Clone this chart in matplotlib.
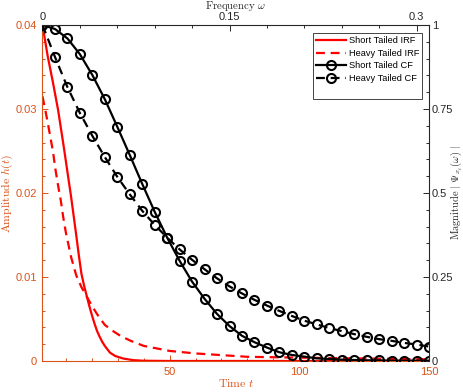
import numpy as np
import matplotlib
matplotlib.use("Agg")
import matplotlib.pyplot as plt
from matplotlib.ticker import FixedLocator, MultipleLocator, FixedFormatter
from matplotlib.lines import Line2D

plt.rcParams['font.family'] = ['Liberation Sans', 'DejaVu Sans']
plt.rcParams['mathtext.fontset'] = 'cm'

ORANGE = '#D95319'
GRAY = '#262626'

# impulse response functions (time axis)
t_short = [1, 3, 5, 7, 9, 11, 12, 13, 14, 15, 16, 17, 18, 19, 20, 21, 22, 23, 24,
           25, 27, 29, 32, 36, 40, 50, 150]
h_short = [0.0400, 0.0363, 0.0332, 0.0299, 0.0259, 0.0217, 0.0196, 0.0173, 0.0150,
           0.0126, 0.0104, 0.0090, 0.0078, 0.0066, 0.0055, 0.0045, 0.0036, 0.0029,
           0.0023, 0.0018, 0.0010, 0.0006, 0.0003, 0.0001, 0.00003, 0.0, 0.0]

t_heavy = [1, 2, 3, 4, 5, 6, 7, 8, 9, 10, 12, 14, 16, 18, 20, 22, 25, 28, 31, 35,
           40, 45, 50, 60, 70, 80, 100, 125, 150]
h_heavy = [0.0315, 0.0300, 0.0284, 0.0267, 0.0250, 0.0228, 0.0209, 0.0192, 0.0171,
           0.0153, 0.0124, 0.0102, 0.0088, 0.0077, 0.0066, 0.0056, 0.0043, 0.0036,
           0.0030, 0.0024, 0.0018, 0.0015, 0.0012, 0.0009, 0.0007, 0.0005, 0.0004,
           0.0003, 0.0002]

# characteristic functions (frequency axis)
omega = [0.00, 0.01, 0.02, 0.03, 0.04, 0.05, 0.06, 0.07, 0.08, 0.09, 0.10, 0.11,
         0.12, 0.13, 0.14, 0.15, 0.16, 0.17, 0.18, 0.19, 0.20, 0.21, 0.22, 0.23,
         0.24, 0.25, 0.26, 0.27, 0.28, 0.29, 0.30, 0.31]
cf_short = [1.000, 0.988, 0.960, 0.913, 0.851, 0.779, 0.697, 0.613, 0.527, 0.444,
            0.367, 0.298, 0.236, 0.185, 0.140, 0.104, 0.075, 0.056, 0.040, 0.026,
            0.018, 0.013, 0.008, 0.006, 0.004, 0.003, 0.002, 0.002, 0.001, 0.001,
            0.001, 0.001]
cf_heavy = [1.000, 0.905, 0.815, 0.738, 0.670, 0.607, 0.548, 0.496, 0.447, 0.405,
            0.367, 0.332, 0.301, 0.273, 0.246, 0.222, 0.201, 0.182, 0.165, 0.149,
            0.134, 0.120, 0.109, 0.098, 0.089, 0.080, 0.072, 0.065, 0.060, 0.054,
            0.049, 0.043]

left_ticks = [0, 0.01, 0.02, 0.03, 0.04]
left_labels = ['0', '0.01', '0.02', '0.03', '0.04']
bottom_ticks = [50, 100, 150]
bottom_labels = ['50', '100', '150']
top_ticks = [0, 0.15, 0.3]
top_labels = ['0', '0.15', '0.3']
right_ticks = [0, 0.25, 0.5, 0.75, 1]
right_labels = ['0', '0.25', '0.5', '0.75', '1']

fig = plt.figure(figsize=(4.64, 3.92), dpi=100)
pos = [42.5 / 464, 31 / 392, 386.5 / 464, 336 / 392]

# ---- time-domain axes ----
ax1 = fig.add_axes(pos)
l1, = ax1.plot(t_short, h_short, color='red', lw=1.6)
l2, = ax1.plot(t_heavy, h_heavy, color='red', lw=1.6, ls='--', dashes=(4, 2.6))
ax1.set_xlim(1, 150)
ax1.set_ylim(0, 0.04)
ax1.xaxis.set_major_locator(FixedLocator(bottom_ticks))
ax1.xaxis.set_major_formatter(FixedFormatter(bottom_labels))
ax1.yaxis.set_major_locator(FixedLocator(left_ticks))
ax1.yaxis.set_major_formatter(FixedFormatter(left_labels))
ax1.xaxis.set_minor_locator(MultipleLocator(10))
ax1.yaxis.set_minor_locator(MultipleLocator(0.002))
for s in ['top', 'right']:
    ax1.spines[s].set_visible(False)
for s in ['left', 'bottom']:
    ax1.spines[s].set_color(ORANGE)
    ax1.spines[s].set_linewidth(0.8)
ax1.tick_params(which='both', direction='in', colors=ORANGE, labelsize=8,
                top=False, right=False, width=0.7)
ax1.tick_params(which='major', length=4, pad=4)
ax1.tick_params(which='minor', length=2.2)
ax1.set_xlabel(r'$\mathrm{Time}\ t$', color=ORANGE, fontsize=8.5, labelpad=1)
ax1.set_ylabel(r'$\mathrm{Amplitude}\ h(t)$', color=ORANGE, fontsize=8.5, labelpad=0)

# ---- frequency-domain axes ----
ax2 = fig.add_axes(pos)
ax2.patch.set_visible(False)
mk = dict(marker='o', ms=6.5, mfc='none', mec='black', mew=1.5)
l3, = ax2.plot(omega, cf_short, color='black', lw=1.6, **mk)
l4, = ax2.plot(omega, cf_heavy, color='black', lw=1.6, ls='--', dashes=(4, 2.6), **mk)
ax2.set_xlim(0, 0.31)
ax2.set_ylim(0, 1)
ax2.xaxis.tick_top()
ax2.yaxis.tick_right()
ax2.xaxis.set_label_position('top')
ax2.yaxis.set_label_position('right')
ax2.xaxis.set_major_locator(FixedLocator(top_ticks))
ax2.xaxis.set_major_formatter(FixedFormatter(top_labels))
ax2.yaxis.set_major_locator(FixedLocator(right_ticks))
ax2.yaxis.set_major_formatter(FixedFormatter(right_labels))
ax2.xaxis.set_minor_locator(MultipleLocator(0.03))
ax2.yaxis.set_minor_locator(MultipleLocator(0.05))
for s in ['left', 'bottom']:
    ax2.spines[s].set_visible(False)
for s in ['top', 'right']:
    ax2.spines[s].set_color(GRAY)
    ax2.spines[s].set_linewidth(0.8)
ax2.tick_params(which='both', direction='in', colors=GRAY, labelsize=8,
                bottom=False, left=False, width=0.7)
ax2.tick_params(which='major', length=4, pad=2)
ax2.tick_params(which='minor', length=2.2)
ax2.set_xlabel(r'$\mathrm{Frequency}\ \omega$', color=GRAY, fontsize=7.8)
ax2.xaxis.set_label_coords(0.5, 1.047)
ax2.set_ylabel(r'$\mathrm{Magnitude}\ |\ \Psi_{x_t}(\omega)\ |$', color=GRAY,
               fontsize=7.5)
ax2.yaxis.set_label_coords(1.051, 0.5)

blank = Line2D([], [], color='none')
leg = ax2.legend([l1, l2, l3, l4, blank],
                 ['Short Tailed IRF', 'Heavy Tailed IRF', 'Short Tailed CF',
                  'Heavy Tailed CF', ' '],
                 loc='upper right', bbox_to_anchor=(0.983, 0.976), borderaxespad=0,
                 fontsize=6.7, handlelength=3.2, handletextpad=0.3,
                 labelspacing=0.38, borderpad=0.35, fancybox=False,
                 edgecolor=GRAY, framealpha=1)
leg.get_frame().set_linewidth(0.6)

fig.savefig('out.png', dpi=100)
